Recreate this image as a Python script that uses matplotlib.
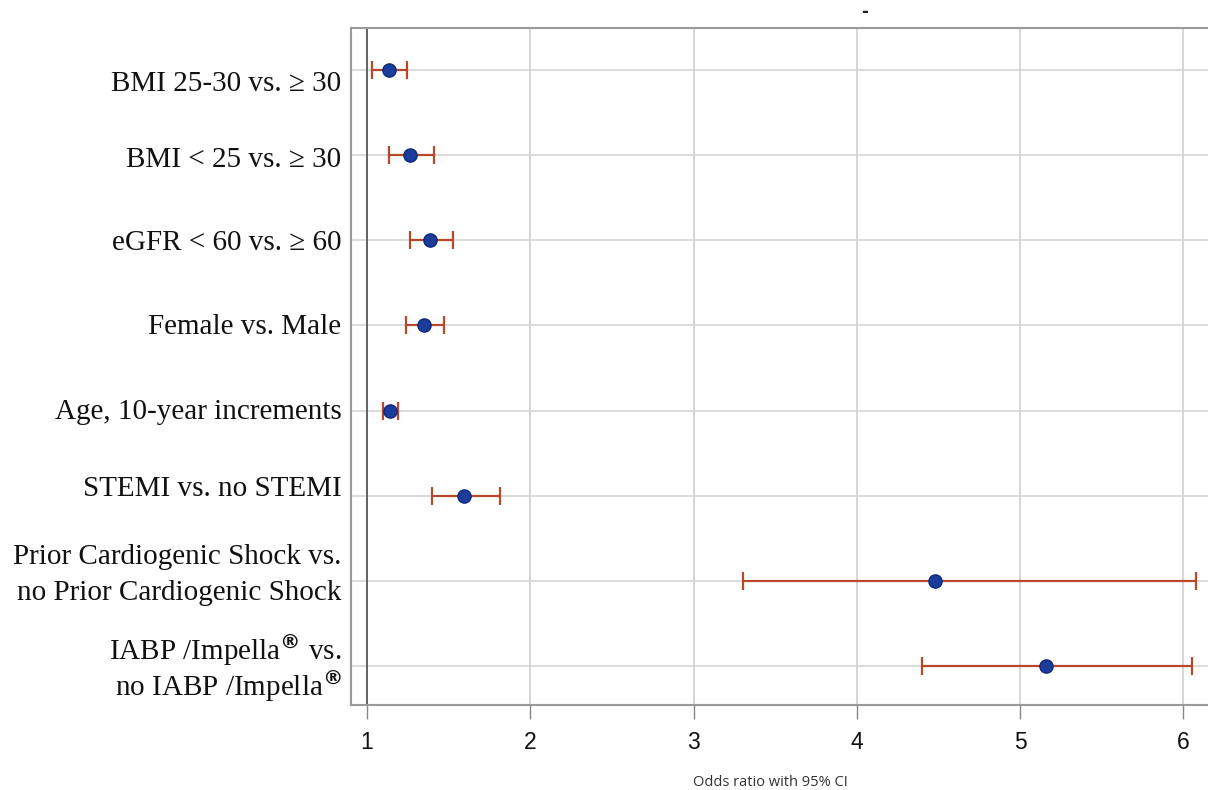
import numpy as np
import matplotlib
matplotlib.use("Agg")
import matplotlib.pyplot as plt

# data, top row first
labels = [
    "BMI 25-30 vs. \u2265 30",
    "BMI < 25 vs. \u2265 30",
    "eGFR < 60 vs. \u2265 60",
    "Female vs. Male",
    "Age, 10-year increments",
    "STEMI vs. no STEMI",
    "Prior Cardiogenic Shock vs.\nno Prior Cardiogenic Shock",
    "IABP /Impella$^{\\mathbf{\u00ae}}$ vs.\nno IABP /Impella$^{\\mathbf{\u00ae}}$",
]
odds = [1.133, 1.263, 1.388, 1.35, 1.141, 1.594, 4.48, 5.16]
ci_low = [1.03, 1.137, 1.265, 1.239, 1.098, 1.40, 3.30, 4.40]
ci_high = [1.247, 1.41, 1.527, 1.47, 1.188, 1.816, 6.08, 6.05]
xticks = [1, 2, 3, 4, 5, 6]

# baseline of first label line below its grid line, in pixels (as in the original)
base_px = [21, 12, 10, 9, 8, 0, -17, -6]
line_gap_px = 36

W, H = 1208, 790
fig = plt.figure(figsize=(W / 100, H / 100), dpi=100)
ax = fig.add_axes([351 / W, (H - 705) / H, (1212 - 351) / W, (705 - 28) / H])

y = np.arange(len(labels))
odds = np.array(odds)
lo = odds - np.array(ci_low)
hi = np.array(ci_high) - odds

for yy in y:
    ax.axhline(yy, color="#d6d6d6", lw=1.2, zorder=0)
for xx in xticks[1:]:
    ax.axvline(xx, color="#d0d0d0", lw=1.2, zorder=0)
ax.axvline(1, color="#555555", lw=1.3, zorder=1)

ax.errorbar(odds, y, xerr=[lo, hi], fmt="none", ecolor="#b8482c",
            elinewidth=1.6, capsize=6.5, capthick=1.6, zorder=2)
ax.plot(odds, y, "o", ms=9.5, mfc="#1c3c9c", mec="#0e2a7a", mew=1, zorder=3)

ax.set_xlim(0.902, 6.175)
ax.set_ylim(len(labels) - 1 + 0.458, -0.493)

ax.set_xticks(xticks)
ax.set_xticklabels([str(t) for t in xticks], family="Liberation Sans", fontsize=16.5)
ax.tick_params(axis="x", direction="out", length=10, width=1, color="#888888",
               pad=9, labelcolor="#111111")
ax.set_yticks([])

ytrans = ax.get_yaxis_transform()
for yy, lab, b in zip(y, labels, base_px):
    for k, line in enumerate(lab.split("\n")):
        off = -(b + k * line_gap_px) * 0.72
        ax.annotate(line, xy=(-0.011, yy), xycoords=ytrans,
                    xytext=(0, off), textcoords="offset points",
                    ha="right", va="baseline", family="Liberation Serif",
                    fontsize=21, color="#111111")

for side in ["left", "top", "bottom"]:
    ax.spines[side].set_color("#9a9a9a")
    ax.spines[side].set_linewidth(1.5)
ax.spines["right"].set_visible(False)

fig.text(770 / W, 1 - 782 / H, "Odds ratio with 95% CI", ha="center", va="center",
         family="Open Sans", fontsize=10.5, color="#333333")
fig.text(865 / W, 1 - 12 / H, "-", ha="center", va="center",
         family="DejaVu Sans", fontsize=12, fontweight="bold", color="#222222")

fig.savefig("out.png", dpi=100)
